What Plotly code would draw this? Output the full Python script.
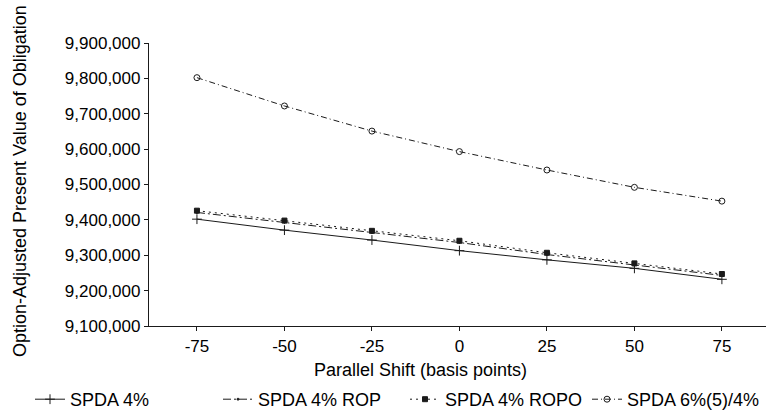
import plotly.graph_objects as go

shifts = [-75, -50, -25, 0, 25, 50, 75]
spda4 = [9402000, 9371000, 9343000, 9313000, 9287000, 9263000, 9232000]
spda4_rop = [9421000, 9393000, 9364000, 9336000, 9302000, 9272000, 9243000]
spda4_ropo = [9426000, 9398000, 9369000, 9341000, 9307000, 9277000, 9247000]
spda6 = [9802000, 9722000, 9651000, 9593000, 9541000, 9492000, 9453000]

y_ticks = [9100000, 9200000, 9300000, 9400000, 9500000, 9600000, 9700000, 9800000, 9900000]
y_labels = [f"{v:,}" for v in y_ticks]

ink = "#1a1a1a"
font = "Liberation Sans, Arial, sans-serif"

series = [
    ("SPDA 4%", spda4, "solid", "cross-thin", 7, ink, "legend"),
    ("SPDA 4% ROP", spda4_rop, "8px,3px,2px,3px", "circle", 2, ink, "legend2"),
    ("SPDA 4% ROPO", spda4_ropo, "2px,4px", "square", 5, ink, "legend3"),
    ("SPDA 6%(5)/4%", spda6, "6px,3px,1px,3px", "circle-open", 6, ink, "legend4"),
]

fig = go.Figure()
for name, vals, dash, sym, msize, col, lg in series:
    fig.add_trace(go.Scatter(
        x=shifts, y=vals, name=name, mode="lines+markers",
        line=dict(color=col, width=1, dash=dash),
        marker=dict(symbol=sym, size=msize, color=col,
                    line=dict(color=col, width=1)),
        legend=lg,
    ))

W, H = 774, 412
L, R, T, B = 149, 8, 43, 86
pw = W - L - R
leg_y = 1 - 381 / H
def leg(xpx):
    return dict(orientation="h", yanchor="top", xanchor="left",
                x=xpx / W, y=leg_y, xref="container", yref="container",
                font=dict(family=font, size=18, color="#000"),
                bgcolor="rgba(0,0,0,0)", borderwidth=0, itemwidth=30)

fig.update_layout(
    width=W, height=H,
    margin=dict(l=L, r=R, t=T, b=B),
    paper_bgcolor="white", plot_bgcolor="white",
    font=dict(family=font, size=17, color="#000"),
    showlegend=True,
    legend=leg(30),
    legend2=leg(218),
    legend3=leg(405),
    legend4=leg(587),
    xaxis=dict(
        range=[-88.7, 87.6], tickvals=shifts, ticktext=[str(s) for s in shifts],
        showline=True, linecolor=ink, linewidth=1.2, showgrid=False, zeroline=False,
        ticks="outside", ticklen=4, tickcolor=ink,
        tickfont=dict(family=font, size=17, color="#000"),
    ),
    yaxis=dict(
        range=[9100000, 9900000], tickvals=y_ticks, ticktext=y_labels,
        showline=True, linecolor=ink, linewidth=1.2, showgrid=False, zeroline=False,
        ticks="outside", ticklen=4, tickcolor=ink,
        tickfont=dict(family=font, size=17, color="#000"),
    ),
    annotations=[
        dict(text="Parallel Shift (basis points)", xref="paper", yref="paper",
             x=(420 - L) / pw, y=-(370 - (H - B)) / (H - T - B), showarrow=False,
             xanchor="center", yanchor="middle",
             font=dict(family=font, size=18, color="#000")),
        dict(text="Option-Adjusted Present Value of Obligation", xref="paper", yref="paper",
             x=(20 - L) / pw, y=(H - B - 181) / (H - T - B), showarrow=False,
             textangle=-90, xanchor="center", yanchor="middle",
             font=dict(family=font, size=18, color="#000")),
    ],
)
fig.write_html("out.html")
